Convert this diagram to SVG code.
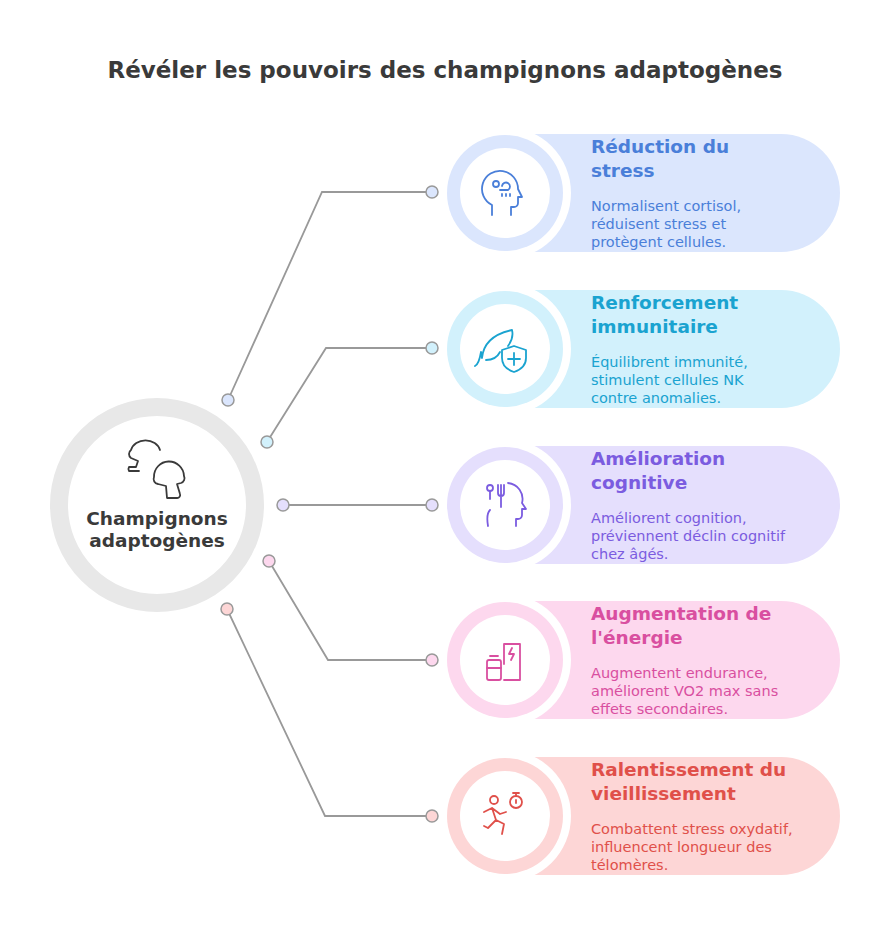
<svg xmlns="http://www.w3.org/2000/svg" width="890" height="944" viewBox="0 0 890 944">
<style>
.t{font-family:"DejaVu Sans","Noto Sans",sans-serif;font-weight:bold;font-size:18.5px}
.b{font-family:"DejaVu Sans","Noto Sans",sans-serif;font-size:14.5px}
.ic{fill:none;stroke-width:1.8;stroke-linecap:round;stroke-linejoin:round}
.ln{fill:none;stroke:#999;stroke-width:1.8}
</style>
<rect width="890" height="944" fill="#fff"/>
<text x="445" y="78" text-anchor="middle" class="t" style="font-size:23px" fill="#3a3a3a">Révéler les pouvoirs des champignons adaptogènes</text>
<g id="connectors">
<polyline class="ln" points="228,400 322,192 432,192"/>
<polyline class="ln" points="267,442 326,348 432,348"/>
<polyline class="ln" points="283,505 432,505"/>
<polyline class="ln" points="269,561 328,660 432,660"/>
<polyline class="ln" points="227,609 325,816 432,816"/>
<g stroke="#999" stroke-width="1.5">
<circle cx="228" cy="400" r="6" fill="#dbe6fd"/><circle cx="432" cy="192" r="6" fill="#dbe6fd"/>
<circle cx="267" cy="442" r="6" fill="#d2f1fc"/><circle cx="432" cy="348" r="6" fill="#d2f1fc"/>
<circle cx="283" cy="505" r="6" fill="#e5dffd"/><circle cx="432" cy="505" r="6" fill="#e5dffd"/>
<circle cx="269" cy="561" r="6" fill="#fdd8ee"/><circle cx="432" cy="660" r="6" fill="#fdd8ee"/>
<circle cx="227" cy="609" r="6" fill="#fdd6d6"/><circle cx="432" cy="816" r="6" fill="#fdd6d6"/>
</g>
</g>
<g id="center">
<circle cx="157" cy="505" r="98" fill="#fff" stroke="#e8e8e8" stroke-width="18"/>
<g class="ic" stroke="#3a3a3a">
<path d="M160 450 a15 13 0 0 0 -29 0 a5 5 0 0 0 0 8 l7 3 l-2 6 h-7 a4 4 0 0 0 0 4 h10"/>
<path d="M154 477 a15 15 0 0 1 30 -1 a5 5 0 0 1 -3 7 l-4 1 l3 10 a3 3 0 0 1 -3 4 h-10 l-1 -12 l-8 -2 a5 5 0 0 1 -4 -7z"/>
</g>
<text x="157" y="525" text-anchor="middle" class="t" fill="#3a3a3a">Champignons</text>
<text x="157" y="547" text-anchor="middle" class="t" fill="#3a3a3a">adaptogènes</text>
</g>
<g id="n1">
<path d="M505 134 H781 A59 59 0 0 1 781 252 H505Z" fill="#dbe6fd"/>
<circle cx="505" cy="193" r="66" fill="#fff"/><circle cx="505" cy="193" r="58" fill="#dbe6fd"/><circle cx="505" cy="193" r="45" fill="#fff"/>
<g class="ic" stroke="#4a7fd9"><path d="M492 215 v-10 a18 18 0 1 1 26 -16 l4 8 h-4 v6 a4 4 0 0 1 -4 4 h-3 v8"/><circle cx="496" cy="184" r="3"/><path d="M502 186 a4 4 0 1 1 6 4 h-8 M502 194v2 M506 194v2 M510 194v2"/></g>
<text class="t" fill="#4a7fd9"><tspan x="591" y="153">Réduction du</tspan><tspan x="591" y="177">stress</tspan></text>
<text class="b" fill="#4a7fd9"><tspan x="591" y="211">Normalisent cortisol,</tspan><tspan x="591" y="229">réduisent stress et</tspan><tspan x="591" y="247">protègent cellules.</tspan></text>
</g>
<g id="n2">
<path d="M505 290 H781 A59 59 0 0 1 781 408 H505Z" fill="#d2f1fc"/>
<circle cx="505" cy="349" r="66" fill="#fff"/><circle cx="505" cy="349" r="58" fill="#d2f1fc"/><circle cx="505" cy="349" r="45" fill="#fff"/>
<g class="ic" stroke="#1aa3d0"><path d="M482 358 q2 -22 30 -28 q2 8 -4 16 M482 358 l-1 -6 q-2 12 -6 14 M486 360 q10 0 14 -8"/><path d="M502 350 l12 -4 l12 4 v8 q0 10 -12 14 q-12 -4 -12 -14z M514 353v12 M508 359h12"/></g>
<text class="t" fill="#1aa3d0"><tspan x="591" y="309">Renforcement</tspan><tspan x="591" y="333">immunitaire</tspan></text>
<text class="b" fill="#1aa3d0"><tspan x="591" y="367">Équilibrent immunité,</tspan><tspan x="591" y="385">stimulent cellules NK</tspan><tspan x="591" y="403">contre anomalies.</tspan></text>
</g>
<g id="n3">
<path d="M505 446 H781 A59 59 0 0 1 781 564 H505Z" fill="#e5dffd"/>
<circle cx="505" cy="505" r="66" fill="#fff"/><circle cx="505" cy="505" r="58" fill="#e5dffd"/><circle cx="505" cy="505" r="45" fill="#fff"/>
<g class="ic" stroke="#7b5ce0"><circle cx="490" cy="488" r="3"/><path d="M490 491v8 M498 485v8 a3 3 0 0 0 6 0 v-8 M501 485v22 M490 510 q-4 4 -2 16 M508 483 a16 16 0 0 1 14 20 l4 6 h-4 v6 a4 4 0 0 1 -4 4 h-2 v7"/></g>
<text class="t" fill="#7b5ce0"><tspan x="591" y="465">Amélioration</tspan><tspan x="591" y="489">cognitive</tspan></text>
<text class="b" fill="#7b5ce0"><tspan x="591" y="523">Améliorent cognition,</tspan><tspan x="591" y="541">préviennent déclin cognitif</tspan><tspan x="591" y="559">chez âgés.</tspan></text>
</g>
<g id="n4">
<path d="M505 601 H781 A59 59 0 0 1 781 719 H505Z" fill="#fdd8ee"/>
<circle cx="505" cy="660" r="66" fill="#fff"/><circle cx="505" cy="660" r="58" fill="#fdd8ee"/><circle cx="505" cy="660" r="45" fill="#fff"/>
<g class="ic" stroke="#d94fa0"><path d="M504 680 h16 v-36 h-16 v20 M512 648 l-3 6 h5 l-3 6"/><rect x="487" y="660" width="14" height="20" rx="2"/><path d="M490 656h8 M487 668h14"/></g>
<text class="t" fill="#d94fa0"><tspan x="591" y="620">Augmentation de</tspan><tspan x="591" y="644">l'énergie</tspan></text>
<text class="b" fill="#d94fa0"><tspan x="591" y="678">Augmentent endurance,</tspan><tspan x="591" y="696">améliorent VO2 max sans</tspan><tspan x="591" y="714">effets secondaires.</tspan></text>
</g>
<g id="n5">
<path d="M505 757 H781 A59 59 0 0 1 781 875 H505Z" fill="#fdd6d6"/>
<circle cx="505" cy="816" r="66" fill="#fff"/><circle cx="505" cy="816" r="58" fill="#fdd6d6"/><circle cx="505" cy="816" r="45" fill="#fff"/>
<g class="ic" stroke="#e0504a"><circle cx="494" cy="800" r="4"/><path d="M484 812 l8 -4 l8 6 l6 -2 M492 808 l4 12 l-8 8 M496 820 l8 4 l-2 10 M488 828 l-4 -2"/><circle cx="516" cy="802" r="6"/><path d="M516 794v2 M513 793h6 M516 800v3"/></g>
<text class="t" fill="#e0504a"><tspan x="591" y="776">Ralentissement du</tspan><tspan x="591" y="800">vieillissement</tspan></text>
<text class="b" fill="#e0504a"><tspan x="591" y="834">Combattent stress oxydatif,</tspan><tspan x="591" y="852">influencent longueur des</tspan><tspan x="591" y="870">télomères.</tspan></text>
</g>
</svg>
